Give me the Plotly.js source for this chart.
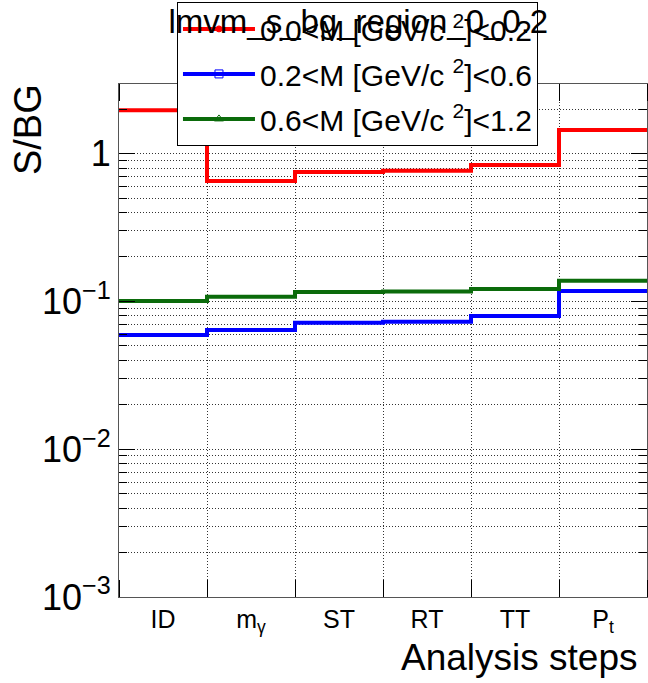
<!DOCTYPE html>
<html>
<head>
<meta charset="utf-8">
<script src="https://cdn.plot.ly/plotly-3.0.1.min.js"></script>
<style>
  html, body { margin: 0; padding: 0; background: #fff; }
  #plot { width: 648px; height: 683px; }
</style>
</head>
<body>
<div id="plot"></div>
<script>
// Analysis steps (one histogram bin each)
const steps = ['ID', 'm<sub>γ</sub>', 'ST', 'RT', 'TT', 'P<sub>t</sub>'];

// Signal / background ratio per step, one array per invariant-mass window
const sbgLow  = [1.97, 0.654, 0.752, 0.767, 0.839, 1.447];   // 0.0 < M < 0.2
const sbgMid  = [0.0593, 0.0642, 0.0719, 0.0730, 0.0797, 0.1178]; // 0.2 < M < 0.6
const sbgHigh = [0.1008, 0.1078, 0.1159, 0.1170, 0.1215, 0.1383]; // 0.6 < M < 1.2

const seriesNames = [
  '0.0<M [GeV/c <sup>2</sup>]<0.2',
  '0.2<M [GeV/c <sup>2</sup>]<0.6',
  '0.6<M [GeV/c <sup>2</sup>]<1.2'
];
const seriesColors = ['#ff0000', '#0000ff', '#0b6b0b'];
const seriesSymbols = ['circle', 'square-open', 'triangle-up-open'];

const yTickVals = [0.001, 0.01, 0.1, 1];
const yTickText = ['10<sup>−3</sup>', '10<sup>−2</sup>', '10<sup>−1</sup>', '1'];

const chartTitle = 'lmvm_s_bg_region_0_0.2';
const xTitle = 'Analysis steps';
const yTitle = 'S/BG';

const FONT = 'Liberation Sans, Arial, Helvetica, sans-serif';

// Bin edges 0..N and centres 0.5..N-0.5
const edges = steps.map((_, i) => i).concat([steps.length]);
const centres = steps.map((_, i) => i + 0.5);

// Minor log ticks 2..9 in each decade
const yMinor = [];
for (let e = -3; e <= 0; e++) {
  for (let m = 2; m <= 9; m++) yMinor.push(m * Math.pow(10, e));
}

// Histogram-style step line: value of each bin held from its low edge to its high edge
function stepTrace(vals, idx) {
  return {
    type: 'scatter', mode: 'lines',
    x: edges, y: vals.concat([vals[vals.length - 1]]),
    line: { shape: 'hv', color: seriesColors[idx], width: 4 },
    legendgroup: 'g' + idx, showlegend: false,
    hoverinfo: 'skip'
  };
}
// Legend key for each series: line sample with its marker
function keyTrace(idx) {
  return {
    type: 'scatter', mode: 'lines+markers',
    x: [null], y: [null],
    name: seriesNames[idx],
    line: { color: seriesColors[idx], width: 4 },
    marker: { symbol: seriesSymbols[idx], color: seriesColors[idx], size: idx === 0 ? 6 : 8,
              line: { color: seriesColors[idx], width: 1 } },
    legendgroup: 'g' + idx, showlegend: true
  };
}

const allSeries = [sbgLow, sbgMid, sbgHigh];
const data = allSeries.map(stepTrace).concat(allSeries.map((_, i) => keyTrace(i)));

const gridDot = { showgrid: true, griddash: '1px,2px', gridcolor: '#333', gridwidth: 1 };

const layout = {
  width: 648, height: 683,
  margin: { l: 119, r: 1, t: 84, b: 86, autoexpand: false },
  paper_bgcolor: '#fff', plot_bgcolor: '#fff',
  font: { family: FONT, color: '#000' },
  showlegend: true,
  title: {
    text: chartTitle,
    font: { family: FONT, size: 33, color: '#000' },
    x: 0.553, xanchor: 'center', xref: 'container',
    y: 0.9685, yanchor: 'middle', yref: 'container'
  },
  xaxis: {
    type: 'linear', range: [0, steps.length],
    tickmode: 'array', tickvals: centres, ticktext: steps,
    ticks: '', showgrid: false, zeroline: false,
    tickfont: { family: FONT, size: 25, color: '#000' },
    showline: true, linecolor: '#555', linewidth: 1, mirror: 'allticks',
    minor: Object.assign({ tickmode: 'array', tickvals: edges, ticks: 'inside', ticklen: 17,
                           tickcolor: '#000', tickwidth: 1 }, gridDot)
  },
  yaxis: {
    type: 'log', range: [-3, 0.4716],
    tickmode: 'array', tickvals: yTickVals, ticktext: yTickText,
    ticks: 'inside', ticklen: 16, tickcolor: '#000', tickwidth: 1,
    tickfont: { family: FONT, size: 36, color: '#000' },
    showline: true, linecolor: '#555', linewidth: 1, mirror: 'allticks',
    zeroline: false,
    showgrid: true, griddash: '1px,2px', gridcolor: '#333', gridwidth: 1,
    minor: Object.assign({ tickmode: 'array', tickvals: yMinor, ticks: 'inside', ticklen: 8,
                           tickcolor: '#000', tickwidth: 1 }, gridDot)
  },
  legend: {
    x: 0.1098, y: 1.160, xanchor: 'left', yanchor: 'top',
    bgcolor: '#fff', bordercolor: '#000', borderwidth: 1,
    font: { family: FONT, size: 30, color: '#000' },
    itemwidth: 72, tracegroupgap: 3, itemclick: false, itemdoubleclick: false
  },
  annotations: [
    { text: yTitle, xref: 'paper', yref: 'paper', x: -0.1723, y: 0.9103,
      xanchor: 'center', yanchor: 'middle', textangle: -90, showarrow: false,
      font: { family: FONT, size: 38, color: '#000' } },
    { text: xTitle, xref: 'paper', yref: 'paper', x: 0.9867, y: -0.117,
      xanchor: 'right', yanchor: 'middle', showarrow: false,
      font: { family: FONT, size: 37, color: '#000' } }
  ]
};

Plotly.newPlot('plot', data, layout, { staticPlot: true, displayModeBar: false });
</script>
</body>
</html>
